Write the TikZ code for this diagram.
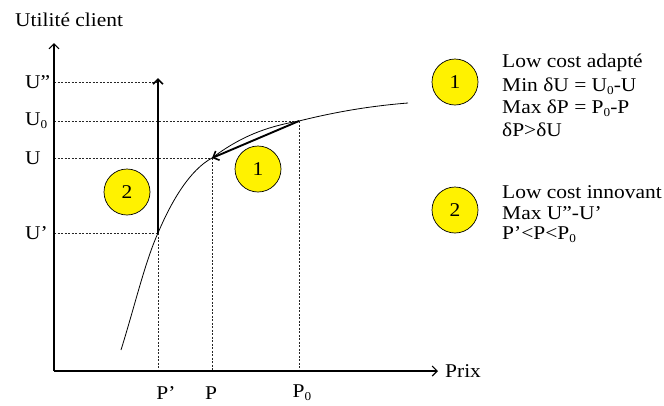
\documentclass[tikz,border=0pt]{standalone}
\usepackage{fontspec}
\setmainfont[FakeStretch=1.1]{Liberation Serif}
\usetikzlibrary{arrows.meta}
\newcommand{\sbs}[1]{\raisebox{-0.35ex}{\fontsize{12}{12}\selectfont #1}}
\begin{document}
\begin{tikzpicture}[x=1pt,y=-1pt,
  txt/.style={font=\fontsize{19.5}{22}\selectfont, inner sep=0pt},
  axis/.style={line width=1.1pt, -{Straight Barb[length=5pt,width=10pt,line width=1.1pt]}},
  guide/.style={dash pattern=on 2pt off 1.5pt, line width=0.8pt, black!85},
  bigarrow/.style={line width=1.9pt, -{Straight Barb[length=5pt,width=10pt,line width=1.6pt]}},
  badge/.style={circle, draw=black, line width=0.7pt, fill=yellow, minimum size=46pt, inner sep=0pt, font=\fontsize{19.5}{22}\selectfont}]
\useasboundingbox (0,0) rectangle (664,405);
% coordinates
\coordinate (O) at (54,371);
\coordinate (ytop) at (54,43);
\coordinate (xend) at (438,371);
\coordinate (Upp) at (54,82);
\coordinate (U0) at (54,121);
\coordinate (U) at (54,158);
\coordinate (Up) at (54,233);
\coordinate (C0) at (121,350);
\coordinate (Cp) at (158,233);
\coordinate (Cm) at (212,158);
\coordinate (Cz) at (299,121);
\coordinate (Ce) at (408,103);
\coordinate (Atop) at (158,78);
\coordinate (Xp) at (158,371);
\coordinate (Xm) at (212,371);
\coordinate (Xz) at (299,371);
% guides
\draw[guide] (Upp) -- (158,82);
\draw[guide] (U0) -- (Cz);
\draw[guide] (U) -- (Cm);
\draw[guide] (Up) -- (Cp);
\draw[guide] (Cp) -- (Xp);
\draw[guide] (Cm) -- (Xm);
\draw[guide] (Cz) -- (Xz);
% axes
\draw[axis] (O) -- (ytop);
\draw[axis] (O) -- (xend);
% curve
\draw[line width=0.8pt] (C0) .. controls (135,305) and (145,262) .. (Cp)
  .. controls (172,200) and (190,170) .. (Cm)
  .. controls (240,137) and (265,127) .. (Cz)
  .. controls (335,112) and (370,106) .. (Ce);
% arrows
\draw[bigarrow] (Cp) -- (Atop);
\draw[bigarrow] (Cz) -- (Cm);
% badges
\node[badge] (b1) at (258,169) {1};
\node[badge] (b2) at (127,192) {2};
\node[badge] (r1) at (455,82) {1};
\node[badge] (r2) at (455,210) {2};
% axis labels
\node[txt, anchor=west] (ylab) at (15,20) {Utilité client};
\node[txt, anchor=west] (xlab) at (445,371) {Prix};
\node[txt, anchor=west] (lUpp) at (25,82) {U”};
\node[txt, anchor=west] (lU0) at (25,121) {U\sbs{0}};
\node[txt, anchor=west] (lU) at (25,158) {U};
\node[txt, anchor=west] (lUp) at (25,233) {U’};
\node[txt] (lPp) at (166,393) {P’};
\node[txt] (lP) at (211,393) {P};
\node[txt] (lP0) at (302,393) {P\sbs{0}};
% legend texts
\node[txt, anchor=west] (t11) at (502,63) {Low cost adapté};
\node[txt, anchor=west] (t12) at (502,86) {Min δU = U\sbs{0}-U};
\node[txt, anchor=west] (t13) at (502,108) {Max δP = P\sbs{0}-P};
\node[txt, anchor=west] (t14) at (502,130) {δP>δU};
\node[txt, anchor=west] (t21) at (502,192) {Low cost innovant};
\node[txt, anchor=west] (t22) at (502,213) {Max U”-U’};
\node[txt, anchor=west] (t23) at (502,235) {P’<P<P\sbs{0}};
\end{tikzpicture}
\end{document}
